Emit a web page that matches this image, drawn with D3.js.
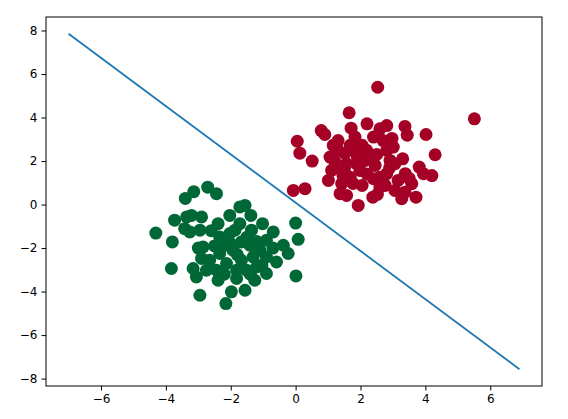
<!DOCTYPE html>
<html>
<head>
<meta charset="utf-8">
<script src="https://d3js.org/d3.v7.min.js"></script>
<style type="text/css">
body { margin:0; background:#fff; }
.tick text { font-family: "DejaVu Sans", sans-serif; font-size:12px; fill:#000; }
</style>
</head>
<body>
<svg id="chart"></svg>
<script>
// class 0 (red) points
var redX = [2.53,1.65,5.51,2.20,0.79,0.90,1.71,3.37,3.44,4.02,2.81,2.60,0.05,0.13,0.51,4.30,3.81,4.20,3.94,3.38,
  3.58,3.37,3.71,3.06,3.27,2.38,2.52,1.93,-0.07,0.29,1.01,1.11,1.37,1.57,1.16,1.31,1.83,1.86,2.19,2.40,
  2.70,3.01,2.81,1.06,1.57,1.88,2.14,2.60,2.40,2.81,3.06,2.91,1.68,1.42,1.98,1.31,1.52,1.21,
  2.05,2.29,1.68,2.45,2.76,1.46,2.97,3.16,2.05,1.77,
  1.90,2.50,1.50,2.20,2.90,3.30,1.20,2.60,3.50];
var redY = [5.39,4.22,3.94,3.71,3.40,3.22,3.51,3.59,3.19,3.22,3.63,3.48,2.91,2.36,2.00,2.29,1.72,1.33,1.42,1.42,
  0.96,0.57,0.34,0.65,0.27,0.34,0.47,-0.04,0.65,0.73,1.11,1.57,0.50,0.42,2.72,2.94,3.10,2.49,2.49,3.10,
  2.94,2.64,2.49,2.18,1.88,1.88,2.03,1.26,1.19,1.42,1.88,2.03,1.26,0.96,1.57,2.49,2.35,1.72,
  2.72,2.26,2.72,1.80,0.88,1.34,3.04,1.11,0.88,0.97,
  2.20,2.30,1.60,1.40,1.70,2.10,2.00,0.80,1.20];

// class 1 (green) points
var greenX = [-4.31,-3.80,-3.83,-3.73,-3.40,-3.14,-2.71,-2.44,-3.36,-3.21,-2.90,-3.42,-3.26,-2.95,-2.85,-2.90,-3.16,-3.06,-2.95,-2.75,
  -2.39,-2.15,-1.98,-1.56,-1.82,-1.26,-0.90,-0.59,-0.38,-0.23,0.00,0.08,0.01,-1.02,-0.69,-0.90,-1.38,-1.72,-2.03,-2.39,
  -2.34,-2.03,-1.72,-1.36,-1.67,-1.93,-2.34,-2.65,-2.13,-1.67,-1.31,-1.10,-1.20,-1.51,-1.82,-0.90,-2.44,
  -1.41,-1.87,-1.04,-2.18,-1.56,
  -2.00,-1.50,-1.80,-2.50,-1.20,-2.20,-1.40,-0.70,-2.60,-3.00];
var greenY = [-1.31,-1.72,-2.94,-0.72,0.28,0.59,0.80,0.50,-0.57,-0.50,-0.57,-1.11,-1.26,-1.18,-1.95,-2.48,-2.94,-3.33,-4.17,-3.02,
  -3.48,-4.55,-4.01,-3.94,-3.40,-3.48,-3.17,-2.64,-1.87,-2.25,-0.85,-1.60,-3.28,-0.88,-1.26,-1.64,-0.50,-0.11,-0.50,-0.88,
  -1.49,-1.33,-0.88,-1.18,-1.72,-2.10,-2.25,-2.56,-2.71,-2.56,-2.41,-2.10,-2.87,-3.02,-3.02,-2.41,-3.02,
  -1.87,-1.18,-2.79,-1.87,-0.04,
  -1.80,-1.50,-2.30,-1.90,-1.70,-3.20,-3.20,-2.00,-1.20,-2.00];

// separating line end points
var lineX = [-7.0, 6.9];
var lineY = [7.85, -7.57];

var xTicks = [-6,-4,-2,0,2,4,6];
var yTicks = [-8,-6,-4,-2,0,2,4,6,8];

var width = 568, height = 419;
var margin = {top:17, right:26, bottom:33, left:46};
var w = width - margin.left - margin.right,
    h = height - margin.top - margin.bottom;

var svg = d3.select('#chart')
  .attr('width', width)
  .attr('height', height);

var g = svg.append('g')
  .attr('transform', 'translate(' + margin.left + ',' + margin.top + ')');

var x = d3.scaleLinear().domain([-7.695, 7.595]).range([0, w]);
var y = d3.scaleLinear().domain([-8.34, 8.62]).range([h, 0]);

var pts = [];
redX.forEach(function(v, i){ pts.push({x:v, y:redY[i], c:'#a50026'}); });
greenX.forEach(function(v, i){ pts.push({x:v, y:greenY[i], c:'#006837'}); });

g.selectAll('circle')
  .data(pts)
  .enter().append('circle')
    .attr('cx', function(d){ return x(d.x); })
    .attr('cy', function(d){ return y(d.y); })
    .attr('r', 6.5)
    .style('fill', function(d){ return d.c; });

var line = d3.line()
  .x(function(d){ return x(d[0]); })
  .y(function(d){ return y(d[1]); });

g.append('path')
  .datum(lineX.map(function(v, i){ return [v, lineY[i]]; }))
  .attr('d', line)
  .style('fill', 'none')
  .style('stroke', '#1f77b4')
  .style('stroke-width', 1.8);

// frame
g.append('rect')
  .attr('width', w)
  .attr('height', h)
  .style('fill', 'none')
  .style('stroke', '#000')
  .style('stroke-width', 1);

var xAxis = g.append('g')
  .attr('transform', 'translate(0,' + h + ')')
  .call(d3.axisBottom(x).tickValues(xTicks).tickSize(4.5).tickPadding(4).tickFormat(d3.format('d')));
var yAxis = g.append('g')
  .call(d3.axisLeft(y).tickValues(yTicks).tickSize(4.5).tickPadding(4).tickFormat(d3.format('d')));

[xAxis, yAxis].forEach(function(a){
  a.select('.domain').remove();
  a.selectAll('.tick line').style('stroke', '#000').style('stroke-width', 1);
});
</script>
</body>
</html>
